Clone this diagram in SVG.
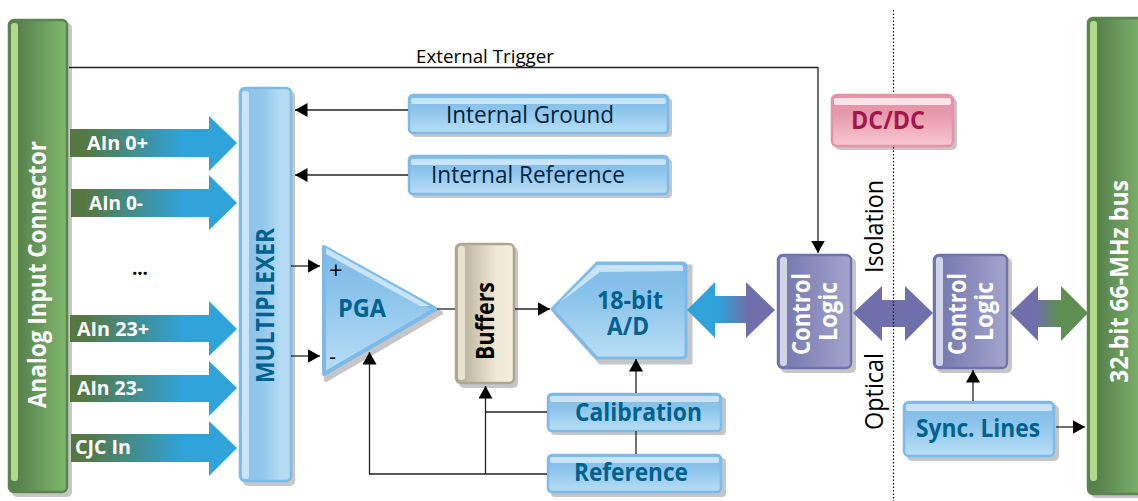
<svg xmlns="http://www.w3.org/2000/svg" width="1138" height="501" viewBox="0 0 1138 501">
<defs>
<linearGradient id="gBlueV" x1="0" y1="0" x2="0" y2="1"><stop offset="0" stop-color="#7fbbe8"/><stop offset="0.35" stop-color="#8ac3ea"/><stop offset="1" stop-color="#b9def5"/></linearGradient>
<linearGradient id="gBlueH" x1="0" y1="0" x2="1" y2="0"><stop offset="0" stop-color="#8ac1e9"/><stop offset="0.45" stop-color="#93c8ec"/><stop offset="0.8" stop-color="#b6dbf4"/><stop offset="1" stop-color="#b6dbf4"/></linearGradient>
<linearGradient id="gGreen" x1="0" y1="0" x2="1" y2="0"><stop offset="0" stop-color="#567f4b"/><stop offset="0.2" stop-color="#5a844e"/><stop offset="1" stop-color="#80b86f"/></linearGradient>
<linearGradient id="gPurple" x1="0" y1="0" x2="1" y2="0"><stop offset="0" stop-color="#7679ae"/><stop offset="0.25" stop-color="#7d80b3"/><stop offset="1" stop-color="#a3a5cd"/></linearGradient>
<linearGradient id="gCream" x1="0" y1="0" x2="1" y2="0"><stop offset="0" stop-color="#b0a992"/><stop offset="0.7" stop-color="#f0e9d5"/><stop offset="1" stop-color="#f5eedc"/></linearGradient>
<linearGradient id="gPink" x1="0" y1="0" x2="0" y2="1"><stop offset="0" stop-color="#e491a6"/><stop offset="0.35" stop-color="#e797ac"/><stop offset="1" stop-color="#f8c8d4"/></linearGradient>
<linearGradient id="gAin" x1="0" y1="0" x2="1" y2="0"><stop offset="0" stop-color="#557842"/><stop offset="0.08" stop-color="#557842"/><stop offset="0.68" stop-color="#2fa3da"/><stop offset="1" stop-color="#2fa3da"/></linearGradient>
<linearGradient id="gBP" x1="0" y1="0" x2="1" y2="0"><stop offset="0" stop-color="#2fa3da"/><stop offset="0.35" stop-color="#2fa3da"/><stop offset="0.68" stop-color="#6f70ab"/><stop offset="1" stop-color="#6f70ab"/></linearGradient>
<linearGradient id="gPG" x1="0" y1="0" x2="1" y2="0"><stop offset="0" stop-color="#6f70ab"/><stop offset="0.33" stop-color="#6f70ab"/><stop offset="0.62" stop-color="#5f8f52"/><stop offset="1" stop-color="#5f8f52"/></linearGradient>
<marker id="ah" markerUnits="userSpaceOnUse" markerWidth="13" markerHeight="15" refX="12.5" refY="7" orient="auto"><polygon points="0,0 12.5,7 0,14" fill="#000"/></marker>
</defs>
<style>
.shadow{fill:#c6c6c6}
.line{fill:none;stroke:#222;stroke-width:1.3}
.blue{fill:url(#gBlueV);stroke:#7cbbe9;stroke-width:2.5}
.blueh{fill:url(#gBlueH);stroke:#7cbbe9;stroke-width:2.5}
.green{fill:url(#gGreen);stroke:#5b8450;stroke-width:2.5}
.purple{fill:url(#gPurple);stroke:#7073ac;stroke-width:2.5}
.cream{fill:url(#gCream);stroke:#aea790;stroke-width:2.5}
.pink{fill:url(#gPink);stroke:#e591a6;stroke-width:2.5}
.hiB{fill:#c9e3f7}
.hiG{fill:#b3d98a}
.hiP{fill:#d3d4e8}
.hiC{fill:#e8e2d0}
.hiK{fill:#fbe3e9}
text{font-family:"Open Sans","Noto Sans","Liberation Sans",sans-serif}
.w{fill:#fff;font-weight:700;font-size:20px}
.t{fill:#00628f;font-weight:700;font-size:25px}
.k{fill:#000;font-size:25px}
.lg{fill:#fff;font-weight:700;font-size:25px}
</style>
<g id="analog-input-connector">
<rect class="shadow" x="12" y="23" width="60" height="474" rx="5"/>
<rect class="green" x="9" y="20" width="58" height="472" rx="5"/>
<rect class="hiG" x="11" y="23" width="7" height="458" rx="3"/>
<text class="lg" transform="translate(46 408) rotate(-90)" textLength="267" lengthAdjust="spacingAndGlyphs">Analog Input Connector</text>
</g>
<g id="ain0p"><polygon fill="url(#gAin)" points="70,129 209,129 209,116 237,143 209,171 209,157 70,157"/><text class="w" x="87" y="150" textLength="61" lengthAdjust="spacingAndGlyphs">AIn 0+</text></g>
<g id="ain0m"><polygon fill="url(#gAin)" points="71,189 209,189 209,175 237,203 209,230 209,217 71,217"/><text class="w" x="89" y="210" textLength="54" lengthAdjust="spacingAndGlyphs">AIn 0-</text></g>
<g id="dots"><text x="132" y="274.500" fill="#000" font-weight="700" font-size="19" textLength="16">...</text></g>
<g id="ain23p"><polygon fill="url(#gAin)" points="70,315 209,315 209,301 237,329 209,356 209,342 70,342"/><text class="w" x="77" y="336" textLength="72" lengthAdjust="spacingAndGlyphs">AIn 23+</text></g>
<g id="ain23m"><polygon fill="url(#gAin)" points="70,375 209,375 209,361 237,388 209,416 209,402 70,402"/><text class="w" x="77" y="395" textLength="66" lengthAdjust="spacingAndGlyphs">AIn 23-</text></g>
<g id="cjc"><polygon fill="url(#gAin)" points="71,434 209,434 209,421 237,448 209,476 209,462 71,462"/><text class="w" x="75" y="454" textLength="56" lengthAdjust="spacingAndGlyphs">CJC In</text></g>
<g id="multiplexer">
<rect class="shadow" x="243" y="91" width="52" height="395" rx="5"/>
<rect class="blueh" x="240" y="88" width="51" height="393" rx="5"/>
<rect class="hiB" x="242" y="91" width="7" height="388" rx="3"/>
<text class="t" transform="translate(274 383) rotate(-90)" textLength="155" lengthAdjust="spacingAndGlyphs">MULTIPLEXER</text>
</g>
<g id="internal-ground">
<rect class="shadow" x="412" y="98" width="260" height="39" rx="4"/>
<rect class="blue" x="409" y="95" width="259" height="38" rx="4"/>
<rect class="hiB" x="411" y="98" width="255" height="6" rx="2"/>
<text x="446" y="123" fill="#00233c" font-size="24" textLength="168" lengthAdjust="spacingAndGlyphs">Internal Ground</text>
</g>
<g id="internal-reference">
<rect class="shadow" x="412" y="159" width="260" height="39" rx="4"/>
<rect class="blue" x="409" y="156" width="259" height="38" rx="4"/>
<rect class="hiB" x="411" y="159" width="255" height="6" rx="2"/>
<text x="431" y="183" fill="#00233c" font-size="24" textLength="194" lengthAdjust="spacingAndGlyphs">Internal Reference</text>
</g>
<g id="external-trigger"><text x="416" y="63" fill="#000" font-size="18.500" textLength="138" lengthAdjust="spacingAndGlyphs">External Trigger</text></g>
<g id="pga">
<path class="shadow" d="M326 250 L441 313 L326 380 Z" stroke="#c6c6c6" stroke-width="4" stroke-linejoin="round"/>
<path class="blue" d="M324 247 L436 309 L324 374 Z" stroke-linejoin="round" style="stroke-width:4"/>
<path class="hiB" d="M326 248 L430 306 L420 306 L326 254 Z"/>
<text x="338" y="317" class="t" textLength="48" lengthAdjust="spacingAndGlyphs">PGA</text>
<text x="329" y="279" fill="#000" font-size="24">+</text>
<text x="329" y="364" fill="#000" font-size="22">-</text>
</g>
<g id="buffers">
<rect class="shadow" x="459" y="247" width="59" height="141" rx="5"/>
<rect class="cream" x="456" y="244" width="58" height="139" rx="5"/>
<rect class="hiC" x="458" y="246" width="7" height="134" rx="3"/>
<text fill="#000" font-weight="700" font-size="25" transform="translate(494 360) rotate(-90)" textLength="78" lengthAdjust="spacingAndGlyphs">Buffers</text>
</g>
<g id="adc">
<path class="shadow" d="M555 313 L600 266 L691 266 L691 363 L600 363 Z" stroke="#c6c6c6" stroke-width="3" stroke-linejoin="round"/>
<path class="blue" d="M552 309 L597 263 L682 263 Q686 263 686 267 L686 354 Q686 358 682 358 L597 358 Z" stroke-linejoin="round" style="stroke-width:3"/>
<path class="hiB" d="M558 304 L597 265 L680 265 Q683 265 683 268 L683 271 L600 272 Z"/>
<text class="t" x="630" y="309" text-anchor="middle" textLength="66" lengthAdjust="spacingAndGlyphs">18-bit</text>
<text class="t" x="628" y="335" text-anchor="middle" textLength="42" lengthAdjust="spacingAndGlyphs">A/D</text>
</g>
<g id="calibration">
<rect class="shadow" x="551" y="397" width="175" height="38" rx="4"/>
<rect class="blue" x="548" y="394" width="173" height="37" rx="4"/>
<rect class="hiB" x="550" y="396" width="169" height="6" rx="2"/>
<text class="t" x="575" y="421" textLength="127" lengthAdjust="spacingAndGlyphs">Calibration</text>
</g>
<g id="reference">
<rect class="shadow" x="551" y="458" width="175" height="39" rx="4"/>
<rect class="blue" x="548" y="455" width="173" height="37" rx="4"/>
<rect class="hiB" x="550" y="457" width="169" height="6" rx="2"/>
<text class="t" x="574" y="481" textLength="114" lengthAdjust="spacingAndGlyphs">Reference</text>
</g>
<g id="control-logic-1">
<rect class="shadow" x="781" y="258" width="75" height="115" rx="5"/>
<rect class="purple" x="778" y="255" width="73" height="113" rx="5"/>
<rect class="hiP" x="780" y="257" width="7" height="109" rx="3"/>
<text class="lg" transform="translate(810 355) rotate(-90)" textLength="82" lengthAdjust="spacingAndGlyphs">Control</text>
<text class="lg" transform="translate(837 341) rotate(-90)" textLength="59" lengthAdjust="spacingAndGlyphs">Logic</text>
</g>
<g id="control-logic-2">
<rect class="shadow" x="937" y="258" width="75" height="115" rx="5"/>
<rect class="purple" x="934" y="255" width="73" height="113" rx="5"/>
<rect class="hiP" x="936" y="257" width="7" height="109" rx="3"/>
<text class="lg" transform="translate(966 355) rotate(-90)" textLength="82" lengthAdjust="spacingAndGlyphs">Control</text>
<text class="lg" transform="translate(993 341) rotate(-90)" textLength="59" lengthAdjust="spacingAndGlyphs">Logic</text>
</g>
<g id="isolation-labels">
<text class="k" transform="translate(883 273) rotate(-90)" textLength="93" lengthAdjust="spacingAndGlyphs">Isolation</text>
<text class="k" transform="translate(883 430) rotate(-90)" textLength="77" lengthAdjust="spacingAndGlyphs">Optical</text>
</g>
<g id="sync-lines">
<rect class="shadow" x="907" y="405" width="152" height="56" rx="5"/>
<rect class="blue" x="904" y="402" width="150" height="54" rx="5"/>
<rect class="hiB" x="906" y="404" width="146" height="7" rx="2"/>
<text class="t" x="916" y="437" textLength="124" lengthAdjust="spacingAndGlyphs">Sync. Lines</text>
</g>
<g id="bus">
<rect class="shadow" x="1091" y="21" width="60" height="477" rx="5"/>
<rect class="green" x="1088" y="18" width="60" height="476" rx="5"/>
<rect class="hiG" x="1090" y="21" width="7" height="460" rx="3"/>
<text class="lg" transform="translate(1128 383) rotate(-90)" textLength="203" lengthAdjust="spacingAndGlyphs">32-bit 66-MHz bus</text>
</g>
<g id="dcdc">
<rect class="shadow" x="835" y="98" width="122" height="52" rx="5"/>
<rect class="pink" x="832" y="95" width="121" height="51" rx="5"/>
<rect class="hiK" x="834" y="98" width="117" height="7" rx="2"/>
<text x="851" y="129" fill="#a5174a" font-weight="700" font-size="25" textLength="74" lengthAdjust="spacingAndGlyphs">DC/DC</text>
</g>
<g id="connectors">
<polyline class="line" points="69,67.500 818,67.500 818,253" marker-end="url(#ah)"/>
<line class="line" x1="408" y1="110" x2="295" y2="110" marker-end="url(#ah)"/>
<line class="line" x1="408" y1="175" x2="295" y2="175" marker-end="url(#ah)"/>
<line class="line" x1="291" y1="266" x2="320" y2="266" marker-end="url(#ah)"/>
<line class="line" x1="291" y1="356" x2="320" y2="356" marker-end="url(#ah)"/>
<line class="line" x1="437" y1="309" x2="455" y2="309"/>
<line class="line" x1="515" y1="309" x2="550" y2="309" marker-end="url(#ah)"/>
<line class="line" x1="636" y1="393" x2="636" y2="359" marker-end="url(#ah)"/>
<line class="line" x1="636" y1="431" x2="636" y2="454"/>
<line class="line" x1="547" y1="412" x2="485.500" y2="412"/>
<line class="line" x1="485.500" y1="474" x2="485.500" y2="386" marker-end="url(#ah)"/>
<polyline class="line" points="547,474 369.500,474 369.500,352" marker-end="url(#ah)"/>
<line class="line" x1="973" y1="401" x2="973" y2="370" marker-end="url(#ah)"/>
<line class="line" x1="1056" y1="427" x2="1085" y2="427" marker-end="url(#ah)"/>
<polygon fill="url(#gBP)" points="687,310 715,282 715,296 746,296 746,282 775,310 746,338 746,323 715,323 715,338"/>
<polygon fill="#6f70ab" points="853,313 882,286 882,300 905,300 905,286 933,313 905,341 905,327 882,327 882,341"/>
<polygon fill="url(#gPG)" points="1010,313 1038,286 1038,300 1061,300 1061,286 1088,313 1061,341 1061,327 1038,327 1038,341"/>
<line x1="893.500" y1="10" x2="893.500" y2="94" stroke="#000" stroke-width="1.200" stroke-dasharray="1.500 2"/>
<line x1="893.500" y1="147" x2="893.500" y2="501" stroke="#000" stroke-width="1.200" stroke-dasharray="1.500 2"/>
</g>
</svg>
